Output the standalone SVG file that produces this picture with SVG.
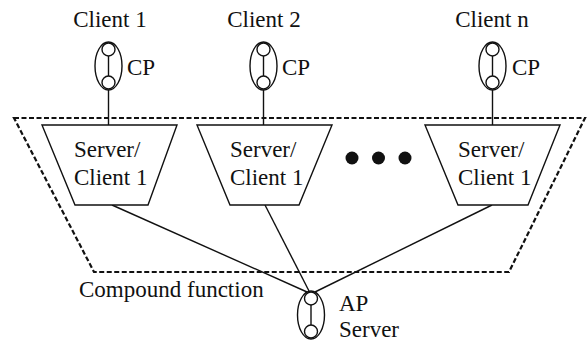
<svg xmlns="http://www.w3.org/2000/svg" width="588" height="343" viewBox="0 0 588 343">
<style>
text{font-family:"Liberation Serif","Times New Roman",serif;font-size:23px;fill:#111}
.ln{stroke:#111;stroke-width:1.4;fill:none}
.sh{stroke:#111;stroke-width:1.4;fill:#fff}
.dash{stroke:#111;stroke-width:2.2;fill:none;stroke-dasharray:5,2.5}
</style>
<defs>
<g id="cp">
<ellipse class="ln" cx="0" cy="0" rx="13.5" ry="24"/>
<line class="ln" x1="0" y1="-10" x2="0" y2="10"/>
<circle class="sh" cx="0" cy="-16.5" r="6.5"/>
<circle class="sh" cx="0" cy="16.5" r="6.5"/>
</g>
</defs>
<rect width="588" height="343" fill="#fff"/>
<g id="connectors">
<line class="ln" x1="108.5" y1="90" x2="108.5" y2="125"/>
<line class="ln" x1="263.5" y1="90" x2="263.5" y2="125"/>
<line class="ln" x1="492.5" y1="90" x2="492.5" y2="125"/>
<line class="ln" x1="112" y1="205" x2="307" y2="292"/>
<line class="ln" x1="265" y1="205" x2="309" y2="291"/>
<line class="ln" x1="492" y1="205" x2="315" y2="292"/>
</g>
<g id="compound">
<polygon class="dash" points="14,118 585,118 509,272 94,272"/>
<text x="79" y="297">Compound function</text>
</g>
<g id="client1">
<text x="110" y="27" text-anchor="middle">Client 1</text>
<use href="#cp" x="108.5" y="66"/>
<text x="127" y="75">CP</text>
</g>
<g id="client2">
<text x="264" y="27" text-anchor="middle">Client 2</text>
<use href="#cp" x="263.5" y="66"/>
<text x="282" y="75">CP</text>
</g>
<g id="clientn">
<text x="492" y="27" text-anchor="middle">Client n</text>
<use href="#cp" x="492.5" y="66"/>
<text x="512" y="75">CP</text>
</g>
<g id="sc1">
<polygon class="sh" points="42,125 177,125 148,205 75,205"/>
<text x="74" y="157">Server/</text>
<text x="74" y="185">Client 1</text>
</g>
<g id="sc2">
<polygon class="sh" points="197,125 332,125 299,205 230,205"/>
<text x="230" y="157">Server/</text>
<text x="230" y="185">Client 1</text>
</g>
<g id="sc3">
<polygon class="sh" points="425,125 560,125 528,205 458,205"/>
<text x="458" y="157">Server/</text>
<text x="458" y="185">Client 1</text>
</g>
<g id="dots" fill="#111">
<circle cx="352" cy="158" r="6.5"/>
<circle cx="378.5" cy="158" r="6.5"/>
<circle cx="405" cy="158" r="6.5"/>
</g>
<g id="ap">
<use href="#cp" x="311" y="315"/>
<text x="339" y="311">AP</text>
<text x="339" y="337">Server</text>
</g>
</svg>
